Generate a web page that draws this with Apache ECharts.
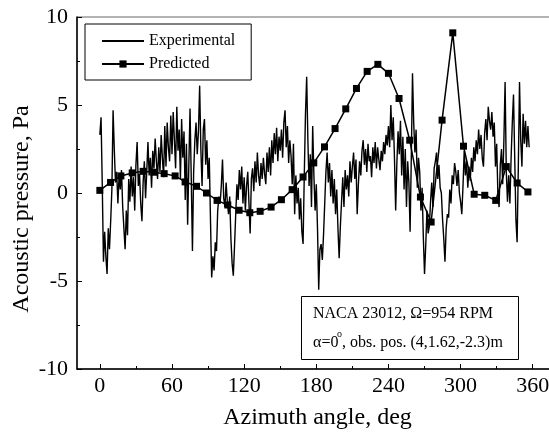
<!DOCTYPE html>
<html>
<head>
<meta charset="utf-8">
<script src="https://cdn.jsdelivr.net/npm/echarts@6/dist/echarts.min.js"></script>
<style>
  html, body { margin: 0; padding: 0; background: #fff; }
  #chart { width: 549px; height: 432px; }
</style>
</head>
<body>
<div id="chart"></div>
<script>
// experimental trace, one sample per degree from 0 deg
const expStart = 0;
const expStep = 1;
const expValues = [
  3.3, 4.3, 0.5, -3.9, -2.2, -3.6, -4.6, -2.0, -3.2, -1.6,
  0.2, 4.7, 2.5, 0.6, 1.2, -0.6, 1.0, 0.2, 1.3, -0.8,
  -2.0, -3.2, -1.0, -2.4, 0.8, -0.5, 1.5, -0.2, 0.9, -1.0,
  1.6, 2.9, 0.4, 1.1, -0.6, -1.6, 0.6, 1.8, -0.3, 1.2,
  2.9, 1.0, 2.0, 0.3, 2.4, 1.4, 3.1, 1.8, 0.8, 2.6,
  1.2, 3.3, 2.0, 0.9, 3.8, 1.5, 4.0, 2.6, 1.8, 4.4,
  2.2, 4.6, 3.0, 1.4, 4.9, 2.4, 3.6, 0.8, 4.2, 2.0,
  3.5, -0.4, 2.8, -1.8, 1.6, 4.8, 0.9, -3.3, 1.2, 3.0,
  4.0, 2.2, 3.5, 6.1, 2.5, 0.4, 3.6, 4.2, 1.6, 3.0,
  0.8, 2.0, -1.5, -4.8, -3.6, -4.4, -2.8, -3.3, -1.0, -0.2,
  -0.6, 0.4, 1.9, -0.3, -0.8, 0.6, -0.5, -1.2, -0.2, -2.6,
  -4.0, -4.7, -3.0, -1.2, 0.5, -0.4, 1.3, 0.2, 1.5, -0.6,
  0.9, -1.0, 0.4, 1.2, -0.6, -2.3, 0.8, 1.4, 0.1, 1.8,
  0.6, 2.3, 1.0, 0.4, 1.7, 0.8, 2.0, 1.1, 0.5, 2.3,
  1.2, 2.6, 1.0, 3.0, 1.7, 3.4, 2.2, 3.7, 1.8, 3.2,
  2.4, 3.6, 2.0, 4.0, 4.7, 2.6, 3.8, 1.7, 3.0, 2.1,
  0.5, 2.8, -1.2, 1.0, -0.6, 0.3, -1.5, -0.3, -2.2, -2.9,
  1.0, 4.5, 6.6, 3.0, 0.4, 2.2, -0.8, 3.8, 1.0, -1.0,
  0.5, -2.0, -5.5, -3.2, -2.9, -3.8, -2.4, -0.6, 1.2, 2.3,
  0.6, 1.7, -0.2, 1.3, -0.6, 0.8, -1.2, 0.2, -2.0, -3.7,
  -1.9, -0.5, 0.9, -0.8, 1.3, 0.2, 1.0, -0.2, 1.8, 0.6,
  1.5, 2.3, 0.8, 1.9, -1.2, 0.5, 1.8, 1.0, 2.4, 3.0,
  1.6, 2.5, 1.2, 2.8, 1.8, 2.1, 0.9, 2.6, 1.7, 2.9,
  1.4, 2.6, 1.9, 1.3, 2.4, 1.8, 2.9, 2.2, 3.3, 2.7,
  3.8, 2.6, 5.0, 3.0, 4.3, 2.0, -1.0, 1.7, 3.5, 2.2,
  4.1, 1.0, 3.2, 0.2, 2.5, -0.8, 1.8, 0.6, -2.2, 2.0,
  6.8, 4.0, 2.3, 3.6, 0.3, 2.0, 1.2, -1.0, 0.3, -2.5,
  -4.6, -3.0, -1.0, -2.3, -1.9, -0.5, 0.6, -0.8, 1.4, 1.8,
  2.3, 0.8, 1.6, 0.3, 0.0, -1.5, -2.6, -3.9, -2.0, -1.2,
  -1.4, 0.2, -0.6, 1.0, 0.5, 1.7, 1.2, 0.4, 1.3, 0.0,
  -0.5, -1.2, 0.4, 2.4, 1.0, 1.8, 0.3, 1.5, 0.7, 2.0,
  1.2, 2.6, 1.8, 3.0, 2.2, 3.6, 2.5, 3.3, 2.0, 1.5,
  3.4, 4.2, 3.0, 4.9, 4.1, 3.6, 4.6, 3.2, 4.0, 1.5,
  2.8, 0.0, -0.8, 1.6, 2.5, 0.5, 3.0, 6.3, 1.2, -0.5,
  1.0, -0.6, 2.0, 4.0, 5.6, 2.0, -1.5, -2.8, 1.5, 6.3,
  3.0, 1.5, 4.5, 2.8, 4.1, 2.6, 3.8, 2.6
];

// predicted points
const predAngle = [0, 8.9, 17.5, 26.9, 36, 44.9, 53.5, 62.6, 70.9, 80.4,
  88.7, 97.5, 106.4, 115.8, 124.7, 133.3, 142.4, 151, 159.9, 169,
  177.9, 186.8, 195.6, 204.5, 213.4, 222.3, 231.2, 240, 248.8, 257.7,
  266.6, 275.5, 284.6, 293.5, 302.4, 311.3, 320.1, 329.2, 338, 347, 356];
const predValue = [0.15, 0.6, 0.97, 1.14, 1.23, 1.18, 1.1, 0.97, 0.63, 0.38,
  0, -0.42, -0.68, -0.98, -1.12, -1.04, -0.8, -0.38, 0.19, 0.91,
  1.71, 2.62, 3.66, 4.78, 5.94, 6.91, 7.31, 6.8, 5.37, 3.0,
  -0.23, -1.65, 4.14, 9.1, 2.66, -0.07, -0.13, -0.42, 1.5, 0.57, 0.06];

const xMajor = [0, 60, 120, 180, 240, 300, 360];
const xMinor = [30, 90, 150, 210, 270, 330];

const serif = '"Liberation Serif", "DejaVu Serif", serif';

const myChart = echarts.init(document.getElementById('chart'));

const expData = expValues.map((v, i) => [expStart + i * expStep, v]);
const predData = predAngle.map((a, i) => [a, predValue[i]]);

const option = {
  animation: false,
  backgroundColor: '#fff',
  grid: {
    left: 77, top: 17, width: 481, height: 352,
    outerBoundsMode: 'none',
    containLabel: false,
    show: true, borderColor: '#666', borderWidth: 1
  },
  legend: {
    orient: 'vertical',
    left: 85, top: 24,
    padding: [9, 16, 8, 16],
    itemGap: 7,
    itemWidth: 42,
    itemHeight: 9,
    borderColor: '#000',
    borderWidth: 1,
    textStyle: { fontFamily: serif, fontSize: 16, color: '#000' },
    data: [
      { name: 'Experimental', itemStyle: { opacity: 0 } },
      { name: 'Predicted' }
    ]
  },
  xAxis: [{
    type: 'value',
    min: -19, max: 381,
    name: 'Azimuth angle, deg',
    nameLocation: 'middle',
    nameGap: 37,
    nameTextStyle: { fontFamily: serif, fontSize: 24, color: '#000' },
    axisLine: { onZero: false, lineStyle: { color: '#000', width: 1.5 } },
    axisTick: { inside: true, length: 5, customValues: xMajor, lineStyle: { color: '#000' } },
    axisLabel: { customValues: xMajor, fontFamily: serif, fontSize: 22, color: '#000', margin: 6 },
    splitLine: { show: false }
  }, {
    type: 'value',
    position: 'bottom',
    min: -19, max: 381,
    axisLine: { show: false, onZero: false },
    axisTick: { inside: true, length: 3, customValues: xMinor, lineStyle: { color: '#000' } },
    axisLabel: { show: false },
    splitLine: { show: false }
  }],
  yAxis: {
    type: 'value',
    min: -10, max: 10, interval: 5,
    name: 'Acoustic pressure, Pa',
    nameLocation: 'middle',
    nameGap: 43,
    nameMoveOverlap: false,
    nameRotate: 90,
    nameTextStyle: { fontFamily: serif, fontSize: 24, color: '#000', padding: [0, 32, 0, 0] },
    axisLine: { onZero: false, lineStyle: { color: '#000', width: 1.5 } },
    axisTick: { inside: true, length: 5, lineStyle: { color: '#000' } },
    minorTick: { show: true, splitNumber: 2, length: 3, lineStyle: { color: '#000' } },
    axisLabel: { fontFamily: serif, fontSize: 22, color: '#000', margin: 9 },
    splitLine: { show: false }
  },
  series: [{
    name: 'Experimental',
    type: 'line',
    data: expData,
    symbol: 'none',
    lineStyle: { color: '#000', width: 1.4 },
    itemStyle: { color: '#000' }
  }, {
    name: 'Predicted',
    type: 'line',
    data: predData,
    symbol: 'rect',
    symbolSize: 7,
    lineStyle: { color: '#000', width: 1.5 },
    itemStyle: { color: '#000' },
    z: 3
  }],
  graphic: [{
    type: 'rect',
    z: 100,
    shape: { x: 301.5, y: 296.5, width: 217, height: 63 },
    style: { fill: '#fff', stroke: '#000', lineWidth: 1 }
  }, {
    type: 'text',
    z: 101,
    x: 313, y: 314,
    style: {
      text: 'NACA 23012, Ω=954 RPM',
      fontFamily: serif, fontSize: 16, fill: '#000',
      verticalAlign: 'middle'
    }
  }, {
    type: 'text',
    z: 101,
    x: 313, y: 343,
    style: {
      text: 'α=0',
      fontFamily: serif, fontSize: 16, fill: '#000',
      verticalAlign: 'middle'
    }
  }, {
    type: 'text',
    z: 101,
    x: 337, y: 334,
    style: {
      text: 'o',
      fontFamily: serif, fontSize: 10, fill: '#000',
      verticalAlign: 'middle'
    }
  }, {
    type: 'text',
    z: 101,
    x: 342, y: 343,
    style: {
      text: ', obs. pos. (4,1.62,-2.3)m',
      fontFamily: serif, fontSize: 16, fill: '#000',
      verticalAlign: 'middle'
    }
  }]
};

myChart.setOption(option);
window.addEventListener('resize', () => {
  myChart.resize();
});
</script>
</body>
</html>
